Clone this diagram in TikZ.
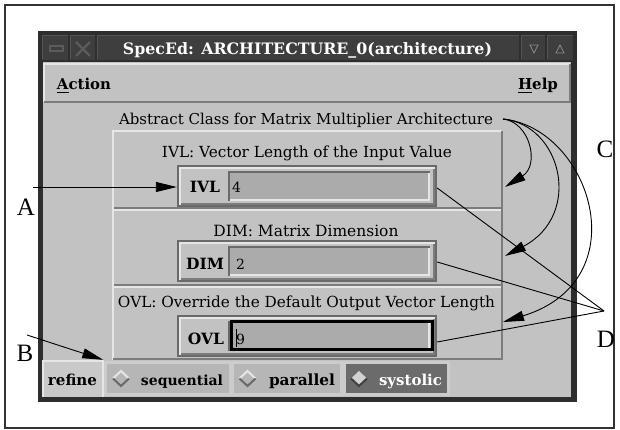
\documentclass[tikz,border=0pt]{standalone}
\usepackage{fontspec}
\usepackage{graphicx}
\setmainfont{Liberation Serif}
\newfontfamily\uifont{DejaVu Serif}
\usetikzlibrary{arrows.meta}
\newcommand{\fw}[2]{\resizebox{#1pt}{!}{#2}}
\definecolor{winbg}{HTML}{C2C2C2}
\definecolor{winedge}{HTML}{2E2E2E}
\definecolor{titlecell}{HTML}{3E3E3E}
\definecolor{titlehi}{HTML}{545454}
\definecolor{iconc}{HTML}{5C5C5C}
\definecolor{tric}{HTML}{8A8A8A}
\definecolor{hilite}{HTML}{E6E6E6}
\definecolor{shadowc}{HTML}{7C7C7C}
\definecolor{edgegray}{HTML}{6A6A6A}
\definecolor{fieldbg}{HTML}{ABABAB}
\definecolor{radiobg}{HTML}{B6B6B6}
\definecolor{selbg}{HTML}{6B6B6B}
\definecolor{refinebg}{HTML}{C9C9C9}
\tikzset{
  txt/.style={inner sep=0pt, anchor=base, font=\uifont},
  btxt/.style={inner sep=0pt, anchor=base, font=\uifont\bfseries},
  fldlab/.style={inner sep=0pt, anchor=base, font=\uifont\bfseries\fontsize{15.5}{16}\selectfont},
  valtxt/.style={inner sep=0pt, anchor=base west, font=\uifont\fontsize{14}{14}\selectfont},
  lab/.style={inner sep=0pt, anchor=base, font=\fontsize{25}{28}\selectfont},
  conn/.style={line width=0.9pt, black},
  myarrow/.style={-{Triangle[length=21pt,width=10pt]}},
  hole/.style={inner sep=0pt, minimum height=42pt, minimum width=260pt},
  inbox/.pic={
    \fill[edgegray] (0,0) rectangle (260,42);
    \fill[hilite] (2,2) rectangle (258,40);
    \fill[shadowc] (4,4) rectangle (258,40);
    \fill[winbg] (4,4) rectangle (256,38);
    \fill[edgegray] (51,6) rectangle (253,36);
    \fill[hilite] (53,8) rectangle (253,36);
    \fill[fieldbg] (53,8) rectangle (251,34);
  },
  radio/.pic={
    \draw[hilite, line width=2pt, line join=miter] (-8,0) -- (0,-7.5) -- (8,0);
    \draw[edgegray, line width=2pt, line join=miter] (-8,0) -- (0,7.5) -- (8,0);
  },
  radiosel/.pic={
    \fill[black!18] (-8,0) -- (0,-7.5) -- (8,0) -- (0,7.5) -- cycle;
    \draw[black!75, line width=2pt, line join=miter] (-8,0) -- (0,7.5) -- (8,0);
  }
}
\begin{document}
\begin{tikzpicture}[x=1pt,y=-1pt]
\useasboundingbox (0,0) rectangle (620,430);
\draw[line width=1.3pt, black!80] (5,5) rectangle (614,428);
% window shell
\fill[winedge] (38,31) rectangle (577,402);
\foreach \a/\b in {42/68,70/95,97/519,521/545,547/573}{
  \fill[titlecell] (\a,35) rectangle (\b,60);
  \draw[titlehi, line width=1pt] (\a+0.5,59.5) -- (\a+0.5,35.5) -- (\b-0.5,35.5);
}
\draw[iconc, line width=1.2pt] (50,46) rectangle (63,51);
\draw[iconc, line width=2.2pt] (76,42) -- (90,56) (90,42) -- (76,56);
\draw[tric, line width=0.8pt] (530,45) -- (538,45) -- (534,53) -- cycle;
\draw[tric, line width=0.8pt] (556,53) -- (564,53) -- (560,45) -- cycle;
\node[btxt, text=white] (title) at (307.5,55) {\fw{369}{SpecEd: ARCHITECTURE\_0(architecture)}};
% body
\fill[winbg] (43,62) rectangle (571,397);
\draw[hilite, line width=2pt] (44,102) -- (44,64) -- (570,64);
\draw[shadowc, line width=2pt] (44,102) -- (570,102) -- (570,64);
\node[btxt] (action) at (84,90) {\fw{54}{\underline{A}ction}};
\node[btxt] (help) at (538,90) {\fw{40}{\underline{H}elp}};
\node[txt] (abstract) at (306,125) {\fw{374}{Abstract Class for Matrix Multiplier Architecture}};
% inner panel
\draw[hilite, line width=2pt] (113,360) -- (113,131) -- (502,131);
\draw[shadowc, line width=2pt] (502,131) -- (502,360);
\draw[shadowc, line width=2pt] (113,359) -- (502,359);
\draw[shadowc, line width=1.5pt] (114,208) -- (501,208);
\draw[hilite, line width=1.5pt] (114,210) -- (501,210);
\draw[shadowc, line width=1.5pt] (114,285) -- (501,285);
\draw[hilite, line width=1.5pt] (114,287) -- (501,287);
\node[txt] (ivlhead) at (307,158) {\fw{290}{IVL: Vector Length of the Input Value}};
\node[txt] (dimhead) at (306,236) {\fw{185}{DIM: Matrix Dimension}};
\node[txt] (ovlhead) at (306.5,307) {\fw{377}{OVL: Override the Default Output Vector Length}};
% input boxes
\pic at (177,165) {inbox};
\pic at (177,240) {inbox};
\pic at (177,315) {inbox};
\draw[black, line width=3pt] (231.5,321.5) rectangle (432.5,349.5);
\node[hole] (ivlbox) at (307,186) {};
\node[hole] (dimbox) at (307,261) {};
\node[hole] (ovlbox) at (307,336) {};
\node[fldlab] (ivllab) at (205,193) {IVL};
\node[fldlab] (dimlab) at (205,269) {DIM};
\node[fldlab] (ovllab) at (206,344) {OVL};
\node[valtxt] (ivlval) at (232,193) {4};
\node[valtxt] (dimval) at (236,269) {2};
\node[valtxt] (ovlval) at (236,344) {9};
\draw[black, line width=1.3pt] (236.5,329) -- (236.5,347);
% radio strip
\fill[refinebg] (42,360) rectangle (103,397);
\draw[hilite, line width=1.5pt] (43,397) -- (43,361) -- (103,361) -- (103,397);
\node[inner sep=0pt, minimum width=61pt, minimum height=37pt] (refinebox) at (72.5,378.5) {};
\fill[black!20] (104,361) rectangle (450,396);
\fill[radiobg] (107,364) rectangle (229,393);
\fill[radiobg] (234,364) rectangle (340,393);
\fill[selbg] (346,364) rectangle (447,393);
\pic at (121,378.5) {radio};
\pic at (247.5,378.5) {radio};
\pic at (359,378.5) {radiosel};
\node[btxt] (refine) at (72.5,385) {\fw{49}{refine}};
\node[btxt] (seq) at (182,385) {\fw{82}{sequential}};
\node[btxt] (par) at (302,385) {\fw{66}{parallel}};
\node[btxt, text=white] (sys) at (410.5,385) {\fw{63}{systolic}};
% callout labels
\node[lab] (A) at (26,215) {A};
\node[lab] (B) at (25,361) {B};
\node[lab] (C) at (605,158) {C};
\node[lab] (D) at (606,347) {D};
% connectors
\coordinate (aS) at (33,187);
\draw[conn, myarrow] (aS) -- ([yshift=-1pt]ivlbox.west);
\coordinate (bS) at (27,335);
\draw[conn, myarrow] (bS) -- (refinebox.north east);
\coordinate (cS) at (503,119);
\coordinate (c1) at (505,187);
\coordinate (c2) at (505,256);
\coordinate (c3) at (503,322);
\draw[conn, myarrow] (cS) .. controls (530,122) and (540,165) .. (c1);
\draw[conn, myarrow] (cS) .. controls (562,125) and (583,215) .. (c2);
\draw[conn, myarrow] (cS) .. controls (590,128) and (640,280) .. (c3);
\coordinate (dC) at (604,311);
\draw[conn] ([yshift=-2pt]ivlbox.east) -- (dC);
\draw[conn] ([yshift=-1pt]dimbox.east) -- (dC);
\draw[conn] ([yshift=-6pt]ovlbox.east) -- (dC);
\end{tikzpicture}
\end{document}
